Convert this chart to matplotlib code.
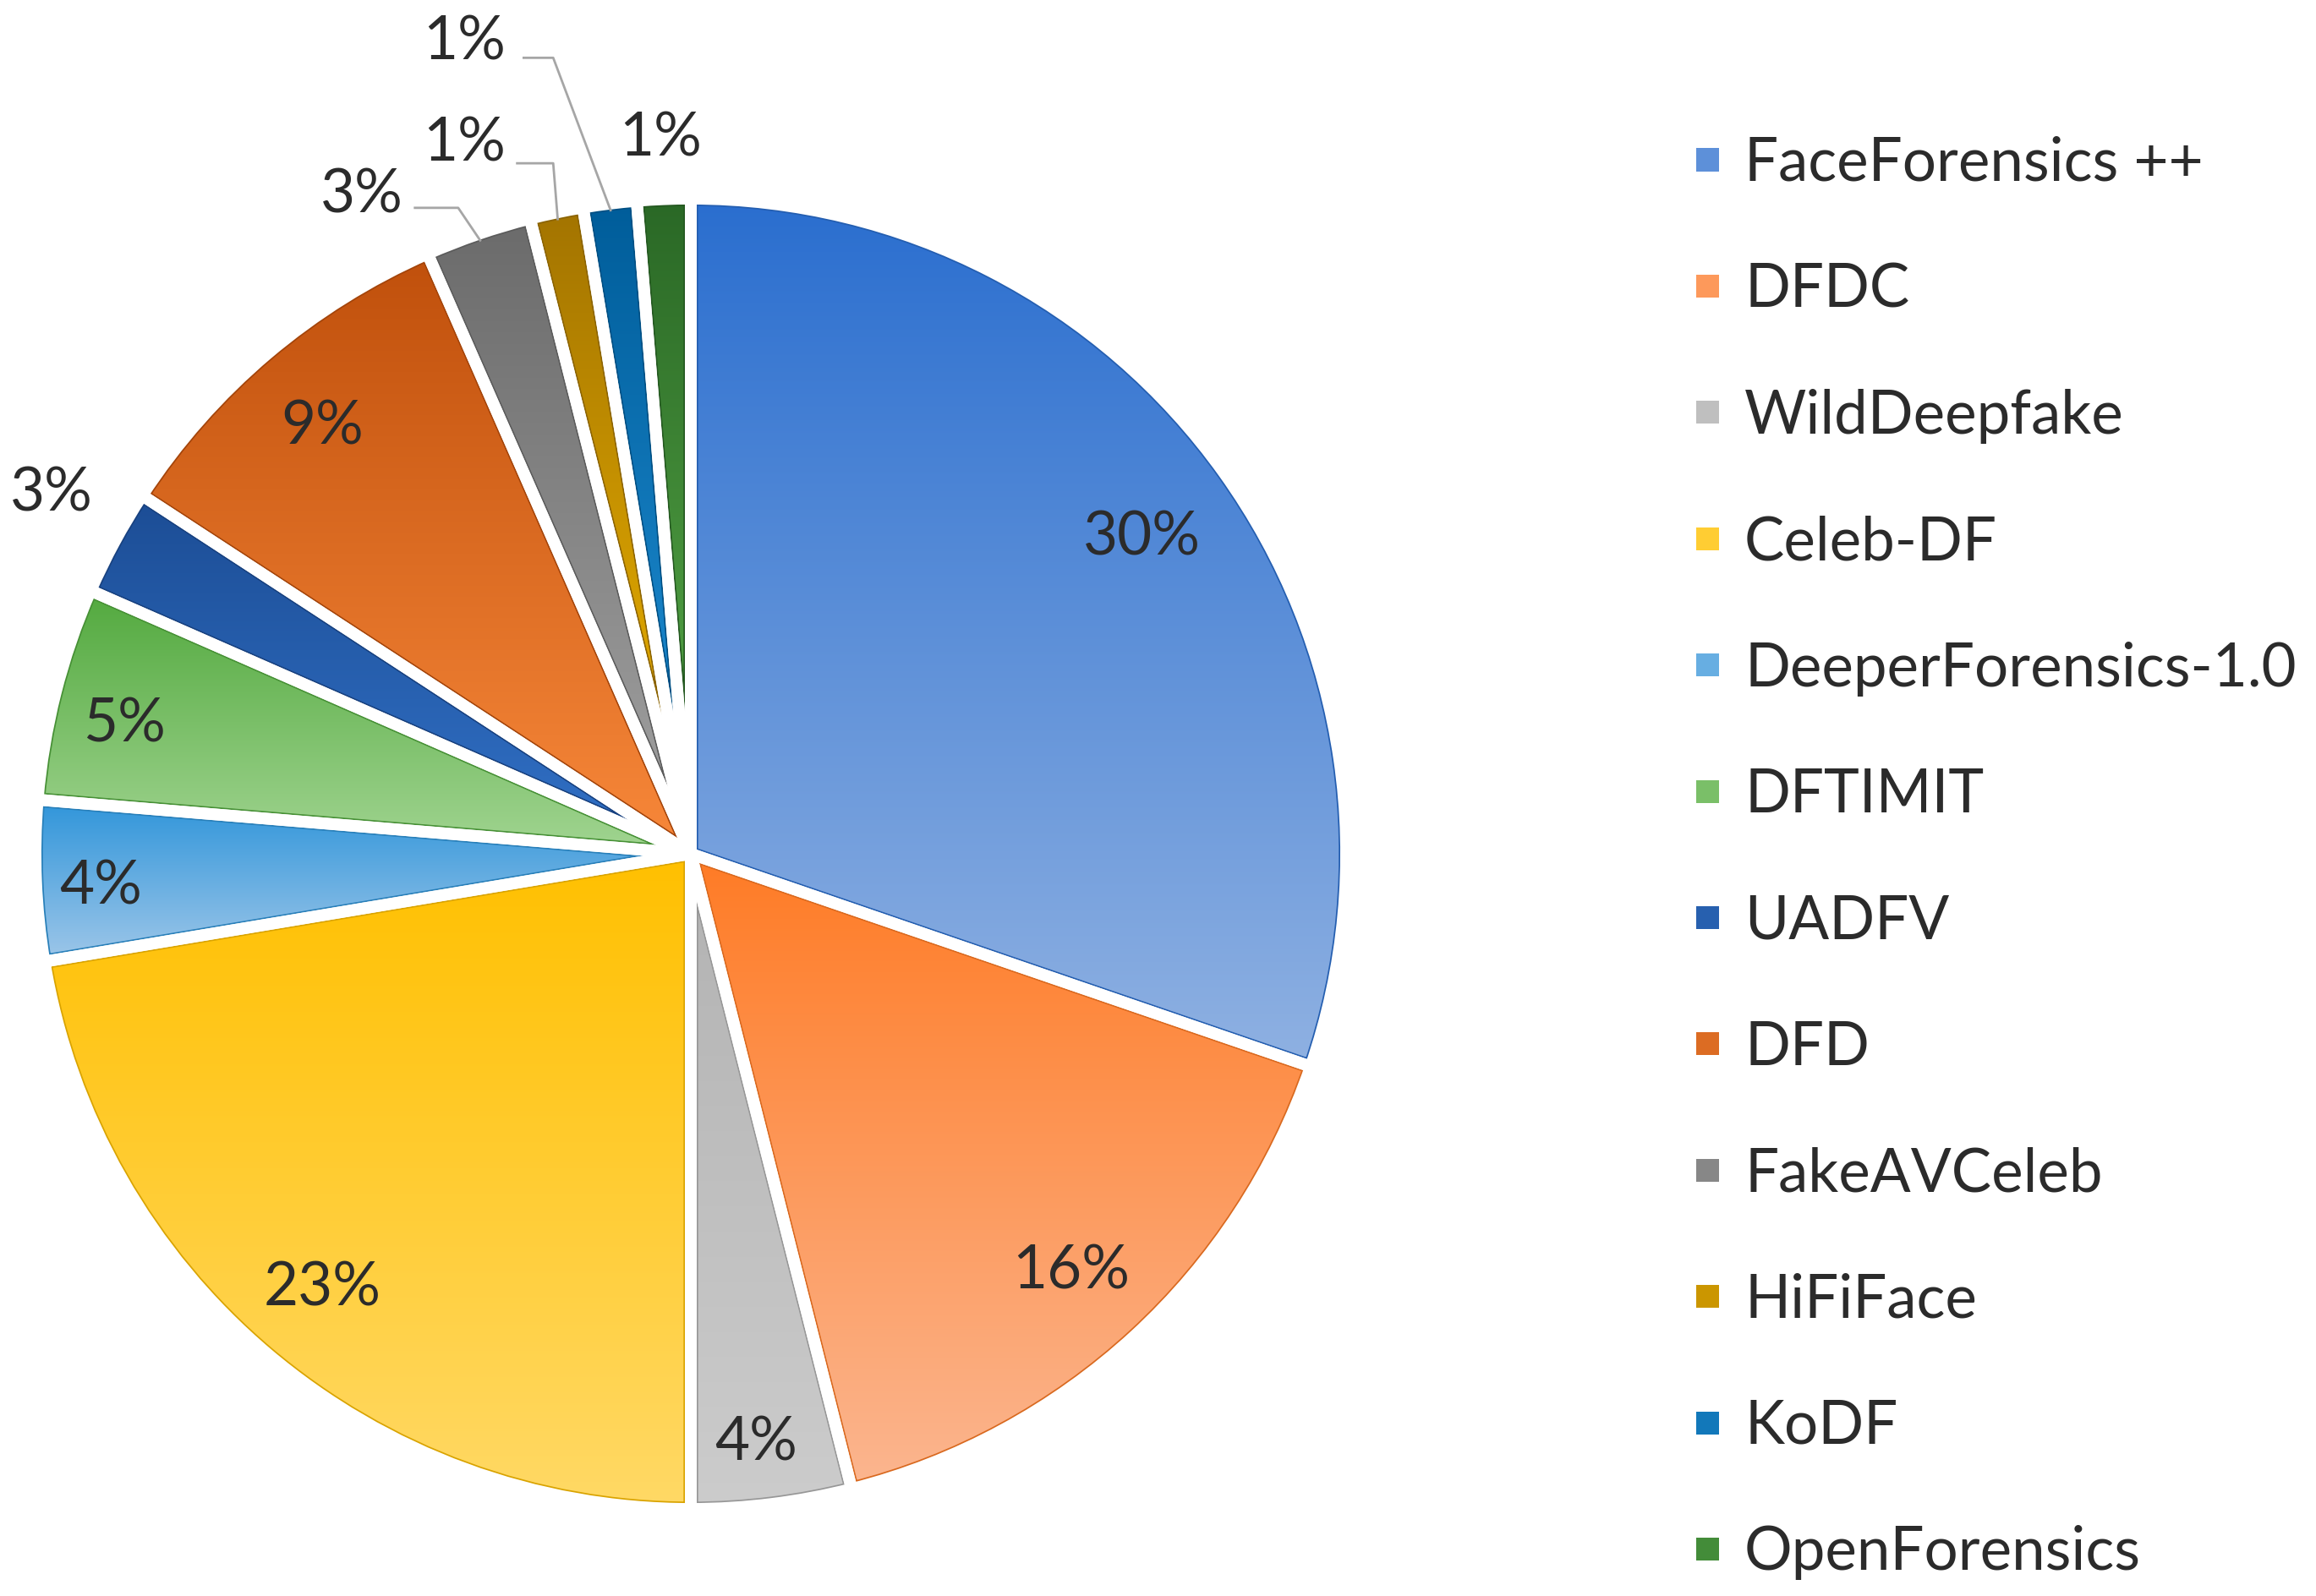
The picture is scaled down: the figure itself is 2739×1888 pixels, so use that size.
import numpy as np
import matplotlib
matplotlib.use("Agg")
import matplotlib.pyplot as plt
from matplotlib.patches import Wedge, Rectangle
from matplotlib.colors import to_rgb

plt.rcParams["font.family"] = ["Lato", "DejaVu Sans"]

# ---------------------------
# data (number of studies per dataset)
# ---------------------------
datasets = ["FaceForensics ++", "DFDC", "WildDeepfake", "Celeb-DF",
            "DeeperForensics-1.0", "DFTIMIT", "UADFV", "DFD",
            "FakeAVCeleb", "HiFiFace", "KoDF", "OpenForensics"]
counts = [23, 12, 3, 17, 3, 4, 2, 7, 2, 1, 1, 1]
# data labels as printed on the chart
pct_labels = ["30%", "16%", "4%", "23%", "4%", "5%", "3%", "9%", "3%", "1%", "1%", "1%"]

# gradient colours (top -> bottom of every slice)
top_colors = ["#2a6ecf", "#ff7b25", "#b2b2b2", "#ffc000", "#2f95da", "#52a93e",
              "#1c4d95", "#c0500c", "#6b6b6b", "#a37400", "#005d9a", "#2a6826"]
bottom_colors = ["#8fb1e2", "#fbb690", "#cccccc", "#ffd966", "#9fc7e9", "#a2d592",
                 "#3272c8", "#f8883a", "#a3a3a3", "#f3b800", "#2393da", "#5cb04b"]

# label placement, in units of the pie radius
label_xy = [(0.688, 0.488), (0.580, -0.631), (0.100, -0.894), (-0.563, -0.658),
            (-0.901, -0.045), (-0.865, 0.203), (-0.976, 0.556), (-0.563, 0.658),
            (-0.502, 1.011), (-0.346, 1.090), (-0.346, 1.244), (-0.046, 1.097)]
leaders = {8: [(-0.421, 0.986), (-0.355, 0.986)],
           9: [(-0.265, 1.054), (-0.210, 1.054)],
           10: [(-0.255, 1.215), (-0.210, 1.215)]}

W, H = 2739, 1888
cx, cy, R = 817, 1010, 775   # pie centre / radius in pixels (from top-left)
txt_color = "#2b2b2b"
fsize = 51

fig = plt.figure(figsize=(W / 100, H / 100), dpi=100)
ax = fig.add_axes([0, 0, 1, 1])

mid_colors = [tuple((np.array(to_rgb(a)) + np.array(to_rgb(b))) / 2)
              for a, b in zip(top_colors, bottom_colors)]

wedges, _ = ax.pie(counts, startangle=90, counterclock=False, radius=1,
                   colors=mid_colors, wedgeprops=dict(linewidth=0))

# gradient fill clipped to each wedge, thin darker rim, white separators on top
for w, c0, c1 in zip(wedges, top_colors, bottom_colors):
    ext = w.get_path().get_extents()
    t = np.linspace(0, 1, 256)[:, None, None]
    grad = (1 - t) * np.array(to_rgb(c0)) + t * np.array(to_rgb(c1))
    im = ax.imshow(grad, extent=[ext.x0, ext.x1, ext.y0, ext.y1], origin="upper",
                   aspect="auto", interpolation="bilinear", zorder=1.5)
    im.set_clip_path(w)
    rim = Wedge(w.center, w.r, w.theta1, w.theta2, fill=False,
                edgecolor=tuple(np.array(to_rgb(c0)) * 0.85), linewidth=12.5,
                joinstyle="round", zorder=1.8)
    ax.add_patch(rim)
    rim.set_clip_path(w)
    ax.add_patch(Wedge(w.center, w.r, w.theta1, w.theta2, fill=False,
                       edgecolor="white", linewidth=10, joinstyle="round", zorder=2))

base_off = 25 / R
for i, w in enumerate(wedges):
    x, y = label_xy[i]
    ax.text(x, y - base_off, pct_labels[i], ha="center", va="baseline",
            fontsize=fsize, color=txt_color, zorder=3)
    if i in leaders:
        mid = np.deg2rad((w.theta1 + w.theta2) / 2)
        pts = leaders[i] + [(0.99 * np.cos(mid), 0.99 * np.sin(mid))]
        xs, ys = zip(*pts)
        ax.plot(xs, ys, color="#a6a6a6", lw=2, zorder=3)

# legend
leg_x, leg_tx, leg_y0, leg_step, box = 2019, 2063, 189, 149.4, 27
for i, name in enumerate(datasets):
    yc = (cy - (leg_y0 + i * leg_step)) / R
    xm = (leg_x - cx) / R
    ax.add_patch(Rectangle((xm - box / 2 / R, yc - box / 2 / R), box / R, box / R,
                           facecolor=mid_colors[i], edgecolor="none"))
    ax.text((leg_tx - cx) / R, yc - base_off, name, ha="left", va="baseline",
            fontsize=fsize, color=txt_color)

ax.set_xlim(-cx / R, (W - cx) / R)
ax.set_ylim(-(H - cy) / R, cy / R)
ax.set_aspect("equal")
ax.axis("off")

fig.savefig("out.png", dpi=100, facecolor="white")
